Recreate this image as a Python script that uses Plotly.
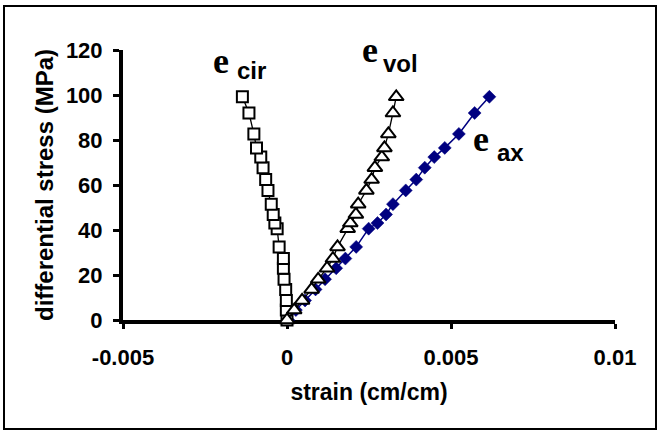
import plotly.graph_objects as go

# ---- data ----
stress = [0, 4.4, 8.7, 13.6, 18.1, 23.0, 27.3, 32.5, 40.6, 43.1, 46.9, 51.5,
          57.6, 62.4, 67.7, 72.4, 76.5, 82.7, 92.0, 99.2]
e_cir = [0.0, -0.00002, -0.00002, -0.00004, -0.00009, -0.00011, -0.00011, -0.00024,
         -0.00030, -0.00037, -0.00042, -0.00048, -0.00058, -0.00065, -0.00073,
         -0.00080, -0.00093, -0.00101, -0.00116, -0.00136]
e_vol = [0.0, 0.00022, 0.00046, 0.00075, 0.00095, 0.00122, 0.00140, 0.00154,
         0.00185, 0.00193, 0.00210, 0.00217, 0.00242, 0.00258, 0.00268, 0.00289,
         0.00297, 0.00309, 0.00323, 0.00333]
e_ax = [0.00004, 0.00027, 0.00055, 0.00087, 0.00116, 0.00150, 0.00178, 0.00211,
        0.00249, 0.00276, 0.00302, 0.00323, 0.00362, 0.00394, 0.00420, 0.00449,
        0.00481, 0.00524, 0.00572, 0.00617]

x_ticks = [-0.005, 0, 0.005, 0.01]
x_tick_text = ["-0.005", "0", "0.005", "0.01"]
y_ticks = [0, 20, 40, 60, 80, 100, 120]

labels = [("e", "cir"), ("e", "vol"), ("e", "ax")]

# ---- layout geometry (pixels) ----
W, H = 662, 432
L, R, T, B = 123, 615, 50, 320


def px(x):
    return (x - L) / (R - L)


def py(y):
    return (B - y) / (B - T)


NAVY = "#000080"
SANS = "Liberation Sans, Arial, sans-serif"
SERIF = "Liberation Serif, Times New Roman, serif"

fig = go.Figure()
fig.add_trace(go.Scatter(
    x=e_ax, y=stress, mode="lines+markers", cliponaxis=False,
    line=dict(color=NAVY, width=1.5),
    marker=dict(symbol="diamond", size=10, color=NAVY, line=dict(color=NAVY, width=0.5)),
    showlegend=False))
fig.add_trace(go.Scatter(
    x=e_cir, y=stress, mode="lines+markers", cliponaxis=False,
    line=dict(color="black", width=1.3),
    marker=dict(symbol="square", size=11, color="white", line=dict(color="black", width=2)),
    showlegend=False))
fig.add_trace(go.Scatter(
    x=e_vol, y=stress, mode="lines+markers", cliponaxis=False,
    line=dict(color="black", width=1.3),
    marker=dict(symbol="triangle-up", size=13, color="white", line=dict(color="black", width=2)),
    showlegend=False))

# curve labels: big serif "e" plus sans subscript
e_pos = [(221, 61), (370, 50), (481, 139)]
sub_pos = [(251, 70), (400, 64), (510, 152)]
for (e_txt, sub), (ex, ey), (sx, sy) in zip(labels, e_pos, sub_pos):
    fig.add_annotation(x=px(ex), y=py(ey), xref="paper", yref="paper", text="<b>%s</b>" % e_txt,
                       showarrow=False, xanchor="center", yanchor="middle",
                       font=dict(family=SERIF, size=36, color="black"))
    fig.add_annotation(x=px(sx), y=py(sy), xref="paper", yref="paper", text="<b>%s</b>" % sub,
                       showarrow=False, xanchor="center", yanchor="middle",
                       font=dict(family=SANS, size=24, color="black"))

# outer frame
fig.add_shape(type="rect", xref="paper", yref="paper",
              x0=px(4), x1=px(656), y0=py(429), y1=py(6),
              line=dict(color="black", width=2), fillcolor="rgba(0,0,0,0)")

fig.update_layout(
    width=W, height=H,
    margin=dict(l=L, r=W - R, t=T, b=H - B, autoexpand=False),
    paper_bgcolor="white", plot_bgcolor="white",
    font=dict(family=SANS, color="black"),
    xaxis=dict(range=[-0.005, 0.01], tickvals=x_ticks, ticktext=x_tick_text,
               showgrid=False, zeroline=False, showline=True, linecolor="black",
               linewidth=4, ticks="outside", ticklen=5, tickwidth=3, tickcolor="black",
               ticklabelstandoff=10, layer="below traces",
               tickfont=dict(family=SANS, size=22, color="black", weight="bold"),
               title=dict(text="<b>strain (cm/cm)</b>", standoff=15,
                          font=dict(family=SANS, size=23, color="black"))),
    yaxis=dict(range=[0, 120], tickvals=y_ticks,
               showgrid=False, zeroline=False, showline=True, linecolor="black",
               linewidth=4, ticks="outside", ticklen=6, tickwidth=3, tickcolor="black",
               ticklabelstandoff=6, layer="below traces",
               tickfont=dict(family=SANS, size=22, color="black", weight="bold"),
               title=dict(text="<b>differential stress (MPa)</b>", standoff=6,
                          font=dict(family=SANS, size=24, color="black"))),
)

fig.write_html("out.html")
